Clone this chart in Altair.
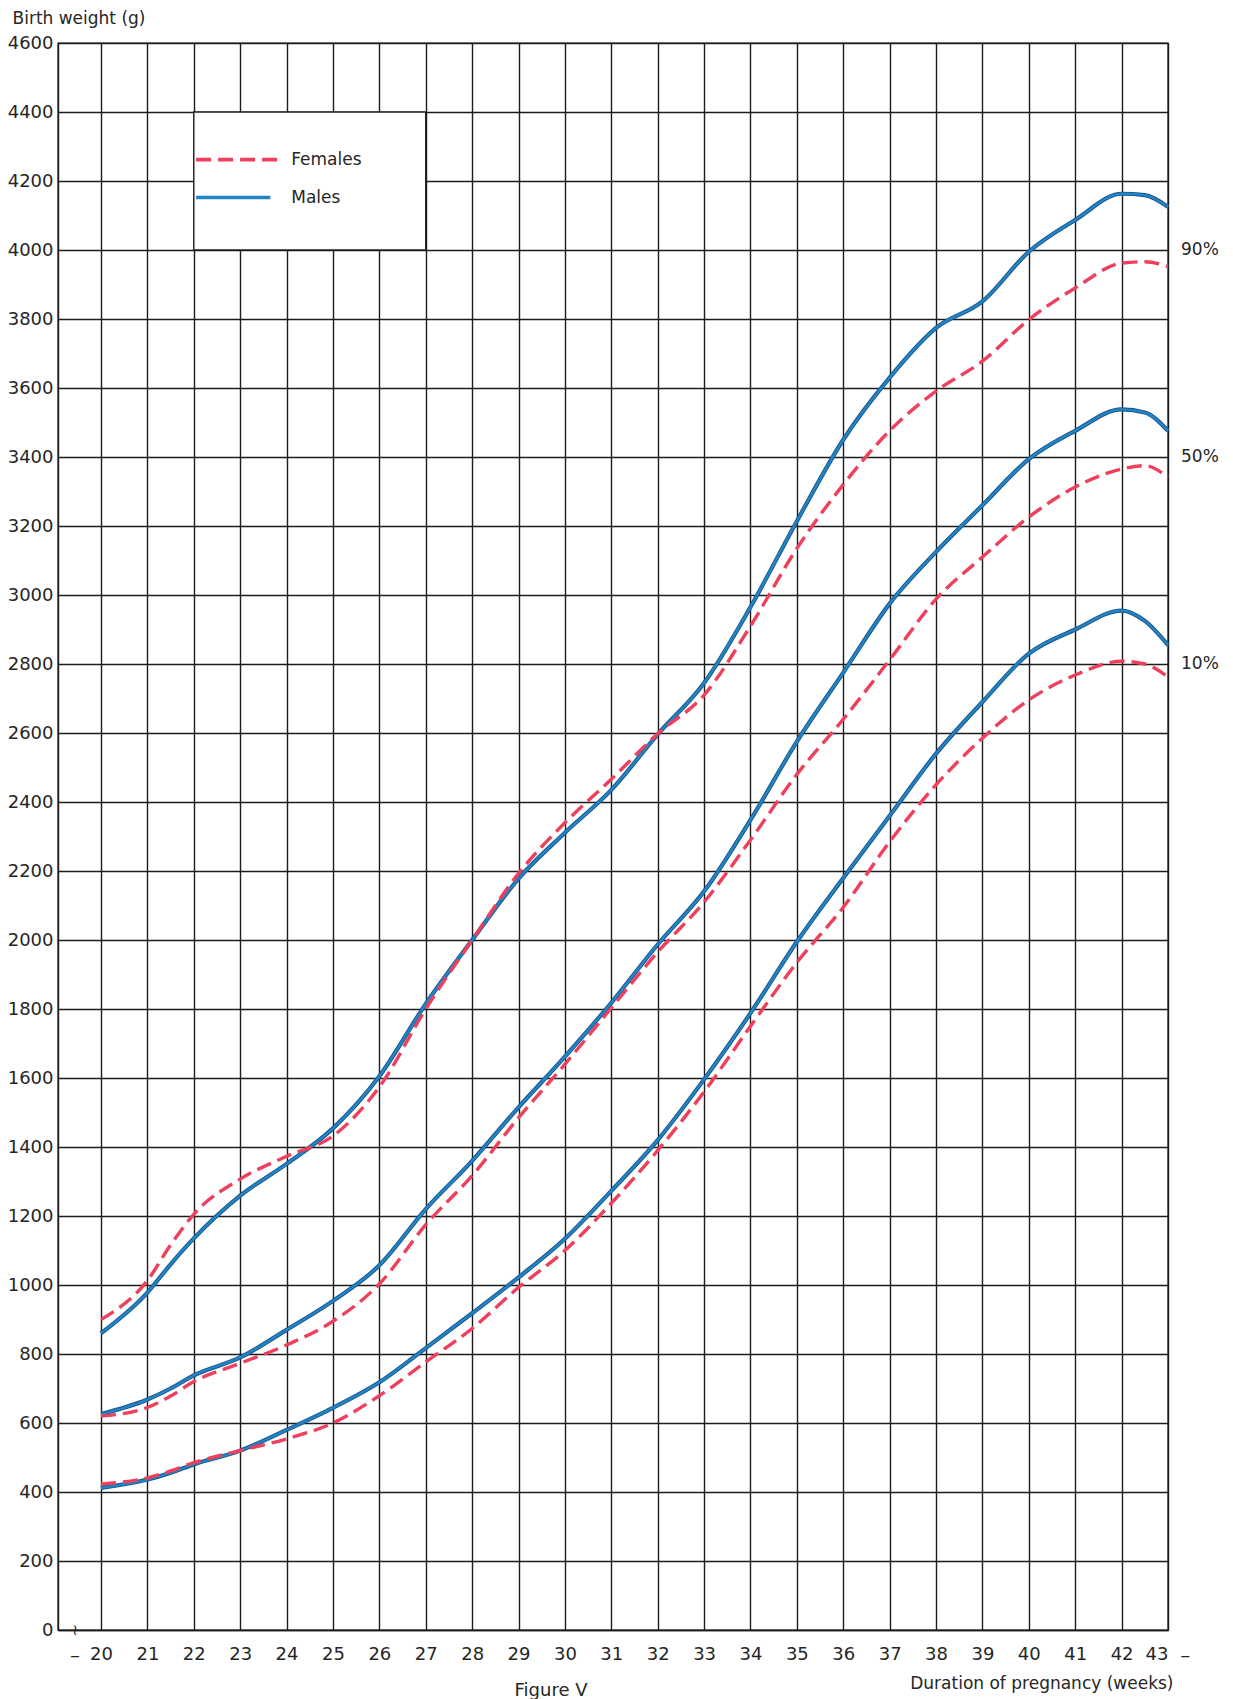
import altair as alt
import pandas as pd

# ---------------- data ----------------
weeks = [20, 21, 21.5, 22, 23, 24, 25, 26, 27, 28, 29, 30, 31, 32, 33, 34,
         35, 36, 37, 38, 39, 40, 41, 42, 42.5, 43]

male_90 = [860, 978, 1060, 1135, 1259, 1351, 1454, 1605, 1815, 2000, 2178, 2311,
           2435, 2596, 2745, 2965, 3214, 3450, 3630, 3774, 3851, 3995, 4087,
           4163, 4159, 4125]
female_90 = [900, 1013, 1116, 1205, 1307, 1373, 1432, 1574, 1800, 2000, 2193,
             2340, 2466, 2598, 2710, 2910, 3135, 3320, 3476, 3591, 3678, 3798,
             3890, 3962, 3966, 3952]
male_50 = [626, 668, 700, 738, 790, 870, 954, 1057, 1220, 1360, 1515, 1662,
           1818, 1987, 2141, 2348, 2575, 2775, 2975, 3125, 3260, 3394, 3476,
           3538, 3529, 3476]
female_50 = [620, 645, 678, 720, 773, 826, 895, 1003, 1175, 1317, 1485, 1640,
             1803, 1965, 2110, 2290, 2480, 2640, 2812, 2988, 3110, 3226, 3313,
             3365, 3375, 3341]
male_10 = [412, 436, 456, 480, 520, 580, 644, 718, 817, 918, 1022, 1134, 1273,
           1420, 1596, 1788, 1995, 2180, 2360, 2540, 2690, 2830, 2900, 2955,
           2925, 2855]
female_10 = [423, 441, 461, 485, 520, 554, 600, 679, 777, 874, 993, 1100, 1237,
             1390, 1560, 1750, 1935, 2095, 2285, 2450, 2585, 2696, 2768, 2808,
             2800, 2762]

x_ticks = list(range(20, 44))
y_ticks = list(range(0, 4601, 200))

pct_labels = ["90%", "50%", "10%"]
pct_label_y = [4000, 3400, 2800]

legend_names = ["Females", "Males"]
legend_y = [4262, 4152]
legend_x0 = [22.05, 22.05]
legend_x1 = [23.85, 23.65]
legend_text_x = [24.1, 24.1]

box_x = [22]
box_x2 = [27]
box_y = [4000]
box_y2 = [4400]

# ---------------- build tables ----------------
rows = []
for sex, pct, vals in [("Males", "90%", male_90), ("Males", "50%", male_50),
                       ("Males", "10%", male_10), ("Females", "90%", female_90),
                       ("Females", "50%", female_50), ("Females", "10%", female_10)]:
    for w, v in zip(weeks, vals):
        rows.append({"week": w, "weight": v, "sex": sex, "pct": pct})
df = pd.DataFrame(rows)

RED = "#ee3f5c"
BLUE = "#2184c6"
BLUE_EDGE = "#1b5588"
INK = "#1c1c1c"
TXT = "#262626"
FONT = "DejaVu Sans"

W, H = 1110, 1587
x_scale = alt.Scale(domain=[19.073, 43], nice=False, zero=False)
y_scale = alt.Scale(domain=[0, 4600], nice=False, zero=False)

x_axis = alt.Axis(values=x_ticks, grid=True, ticks=False, format="d",
                  labelFontSize=18, labelPadding=15, labelColor=TXT,
                  title="Duration of pregnancy (weeks)", titleFontSize=17,
                  titleFontWeight="normal", titleX=W + 5, titleY=58,
                  titleAlign="right", titleBaseline="alphabetic",
                  titleColor=TXT, labelFont=FONT, titleFont=FONT,
                  gridColor=INK, gridWidth=1.4, gridOpacity=1,
                  domainColor=INK, domainWidth=1.4)
y_axis = alt.Axis(values=y_ticks, grid=True, ticks=False, format="d",
                  labelFontSize=18, labelPadding=5, labelColor=TXT,
                  title="Birth weight (g)", titleAngle=0, titleX=-46,
                  titleY=-20, titleAlign="left", titleBaseline="alphabetic",
                  titleFontSize=17, titleFontWeight="normal",
                  titleColor=TXT, labelFont=FONT, titleFont=FONT,
                  gridColor=INK, gridWidth=1.4, gridOpacity=1,
                  domainColor=INK, domainWidth=1.4)


def X(field="week"):
    return alt.X(f"{field}:Q", scale=x_scale, axis=x_axis, title="Duration of pregnancy (weeks)")


def Y(field="weight"):
    return alt.Y(f"{field}:Q", scale=y_scale, axis=y_axis, title="Birth weight (g)")


# legend box (white rectangle hiding the grid)
box_df = pd.DataFrame({"week": box_x, "week2": box_x2, "weight": box_y, "weight2": box_y2})
box = alt.Chart(box_df).mark_rect(fill="white", stroke=INK, strokeWidth=1.4).encode(
    x=X(), x2="week2:Q", y=Y(), y2="weight2:Q",
)

color_scale = alt.Scale(domain=["Females", "Males"], range=[RED, BLUE])
dash_scale = alt.Scale(domain=["Females", "Males"], range=[[15, 7], [1, 0]])

male_df = df[df.sex == "Males"]
males_edge = alt.Chart(male_df).mark_line(
    interpolate="monotone", strokeWidth=4.2, color=BLUE_EDGE, strokeCap="butt"
).encode(x=X(), y=Y(), detail="pct:N")
males = alt.Chart(male_df).mark_line(
    interpolate="monotone", strokeWidth=2.4, color=BLUE, strokeCap="butt"
).encode(x=X(), y=Y(), detail="pct:N")

females = alt.Chart(df[df.sex == "Females"]).mark_line(
    interpolate="monotone", strokeWidth=3.4, color=RED, strokeDash=[15, 7],
    strokeCap="butt"
).encode(x=X(), y=Y(), detail="pct:N")

leg_df = pd.DataFrame({"name": legend_names, "week": legend_x0, "week2": legend_x1,
                       "weight": legend_y, "tx": legend_text_x})
leg_lines = alt.Chart(leg_df).mark_rule(strokeWidth=3.6).encode(
    x=X(), x2="week2:Q", y=Y(),
    color=alt.Color("name:N", scale=color_scale, legend=None),
    strokeDash=alt.StrokeDash("name:N", scale=dash_scale, legend=None),
)
leg_text = alt.Chart(leg_df).mark_text(align="left", baseline="middle", fontSize=17,
                                       font=FONT, color=TXT).encode(
    x=X("tx"), y=Y(), text="name:N",
)

pct_df = pd.DataFrame({"week": [43] * 3, "weight": pct_label_y, "label": pct_labels})
pct_text = alt.Chart(pct_df).mark_text(align="left", baseline="middle", dx=13,
                                       fontSize=17, font=FONT, color=TXT).encode(
    x=X(), y=Y(), text="label:N",
)

dash_df = pd.DataFrame({"week": [19.44, 43.37], "label": ["\u2013", "\u2013"]})
dash_text = alt.Chart(dash_df).mark_text(align="center", baseline="middle",
                                         fontSize=20, font=FONT, color=TXT).encode(
    x=X(), y=alt.value(H + 26), text="label:N",
)

brk_df = pd.DataFrame({"week": [19.44], "label": ["\u2240"]})
brk_text = alt.Chart(brk_df).mark_text(align="center", baseline="middle",
                                       fontSize=15, font="DejaVu Sans", color=INK).encode(
    x=X(), y=alt.value(H), text="label:N",
)

fig_df = pd.DataFrame({"week": [29.7], "label": ["Figure V"]})
fig_text = alt.Chart(fig_df).mark_text(align="center", baseline="alphabetic",
                                       fontSize=18, font=FONT, color=TXT).encode(
    x=X(), y=alt.value(H + 66), text="label:N",
)

chart = alt.layer(box, males_edge, males, females, leg_lines, leg_text, pct_text,
                  dash_text, brk_text, fig_text).properties(
    width=W, height=H,
    padding={"left": 50, "top": 35, "right": 57, "bottom": 70},
    autosize=alt.AutoSizeParams(type="none"),
    background="white",
).configure_view(stroke=INK, strokeWidth=1.4)

chart.save("out.html", embed_options={"renderer": "svg", "actions": False})
